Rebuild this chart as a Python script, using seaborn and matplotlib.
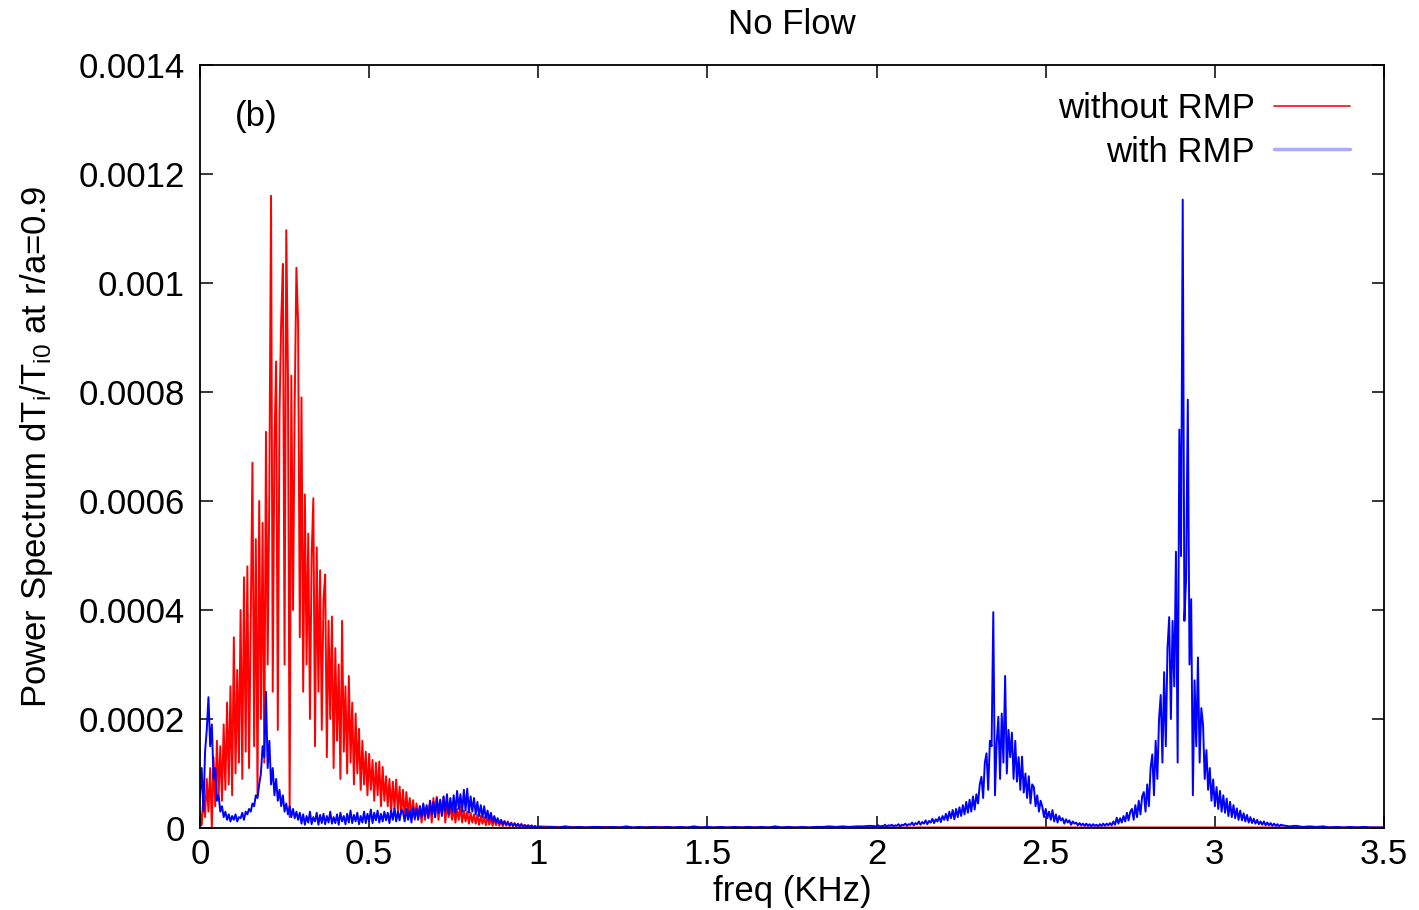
import numpy as np
import pandas as pd
import matplotlib
matplotlib.use("Agg")
import matplotlib.pyplot as plt
from matplotlib.lines import Line2D
import seaborn as sns

# ---------------- data (power values in units of 1e-6) ----------------
title = "No Flow"
series_names = ["without RMP", "with RMP"]
x_ticks = [0, 0.5, 1, 1.5, 2, 2.5, 3, 3.5]
x_tick_labels = ["0", "0.5", "1", "1.5", "2", "2.5", "3", "3.5"]
y_ticks = [0, 0.0002, 0.0004, 0.0006, 0.0008, 0.001, 0.0012, 0.0014]
y_tick_labels = ["0", "0.0002", "0.0004", "0.0006", "0.0008", "0.001", "0.0012", "0.0014"]
value_unit = 1e-6

# without RMP: 0.000 .. 0.995 kHz, step 0.005
red_a_start, red_a_step = 0.0, 0.005
red_a = [
    30, 5, 60, 20, 90, 30, 110, 0, 130, 40, 160, 60, 150, 50, 190, 70, 230, 80, 260, 60,
    350, 100, 290, 120, 400, 90, 460, 140, 480, 110, 380, 670, 150, 530, 60, 600, 200, 560, 120, 727,
    300, 620, 1160, 250, 700, 856, 180, 760, 930, 1035, 300, 1097, 833, 20, 830, 400, 780, 1028, 926, 350,
    790, 250, 612, 300, 540, 200, 500, 605, 150, 515, 250, 473, 180, 420, 465, 130, 380, 200, 388, 110,
    330, 160, 300, 90, 380, 140, 260, 100, 279, 120, 230, 80, 210, 100, 182, 70, 160, 80, 140, 60,
    136, 70, 125, 50, 120, 60, 122, 40, 112, 50, 95, 40, 90, 30, 85, 35, 89, 30, 76, 25,
    70, 20, 66, 25, 55, 20, 51, 15, 45, 20, 40, 10, 42, 15, 39, 20, 50, 10, 55, 20,
    57, 15, 50, 25, 57, 10, 45, 20, 40, 15, 38, 10, 35, 15, 40, 10, 32, 12, 30, 8,
    28, 10, 25, 8, 24, 6, 22, 8, 20, 5, 20, 6, 18, 4, 17, 5, 15, 4, 14, 3,
    13, 4, 12, 3, 10, 3, 9, 2, 8, 2, 8, 2, 6, 2, 5, 1, 5, 1, 4, 1,
]
# without RMP: 1.00 .. 3.50 kHz, step 0.05
red_b_start, red_b_step = 1.0, 0.05
red_b = [3, 2, 2, 1, 2, 1, 1, 2, 1, 1, 1, 1, 1, 1, 1, 1, 1, 1, 1, 1,
         1, 1, 1, 1, 1, 1, 1, 1, 1, 1, 1, 1, 1, 1, 1, 1, 1, 1, 1, 1,
         1, 1, 1, 1, 1, 1, 1, 1, 1, 1, 1]

# with RMP: 0.000 .. 0.995 kHz, step 0.005
blue_a_start, blue_a_step = 0.0, 0.005
blue_a = [
    60, 110, 30, 140, 180, 240, 150, 190, 90, 110, 50, 60, 30, 40, 20, 30, 15, 25, 12, 22,
    15, 25, 12, 20, 18, 28, 15, 30, 25, 35, 30, 45, 40, 60, 55, 80, 100, 150, 130, 250,
    110, 160, 80, 110, 60, 90, 50, 70, 40, 60, 30, 45, 25, 40, 20, 35, 18, 30, 15, 28,
    8, 25, 6, 22, 10, 30, 7, 20, 12, 28, 6, 24, 9, 26, 7, 22, 10, 30, 8, 20,
    9, 25, 6, 28, 12, 22, 7, 26, 10, 32, 9, 24, 12, 28, 7, 22, 10, 30, 9, 26,
    12, 34, 9, 28, 14, 32, 10, 26, 12, 30, 14, 28, 9, 32, 15, 36, 12, 30, 14, 34,
    30, 12, 35, 15, 32, 10, 38, 18, 35, 15, 40, 20, 45, 22, 42, 18, 50, 25, 48, 20,
    55, 28, 52, 22, 58, 30, 62, 25, 55, 30, 60, 28, 68, 35, 62, 30, 70, 32, 72, 28,
    58, 30, 55, 25, 48, 22, 42, 20, 40, 18, 32, 15, 28, 12, 22, 10, 18, 8, 15, 7,
    12, 6, 10, 5, 9, 4, 8, 4, 7, 3, 6, 3, 5, 2, 5, 2, 4, 2, 3, 2,
]
# with RMP: 1.00 .. 1.98 kHz, step 0.02
blue_b_start, blue_b_step = 1.0, 0.02
blue_b = [2, 1, 2, 1, 3, 1, 2, 1, 2, 2, 1, 2, 1, 3, 1, 2, 1, 2, 1, 2,
          1, 2, 1, 3, 1, 2, 1, 2, 1, 2, 1, 2, 1, 2, 1, 3, 1, 2, 1, 2,
          1, 2, 2, 3, 2, 3, 2, 3, 3, 4]
# with RMP: 2.000 .. 3.195 kHz, step 0.005
blue_c_start, blue_c_step = 2.0, 0.005
blue_c = [
    3, 5, 2, 4, 3, 6, 2, 5, 4, 6, 3, 5, 4, 7, 3, 6, 5, 8, 4, 7,
    6, 10, 5, 9, 7, 12, 6, 11, 8, 14, 7, 13, 10, 17, 9, 16, 12, 20, 11, 22,
    15, 26, 14, 30, 18, 33, 16, 35, 20, 38, 22, 42, 25, 48, 28, 52, 30, 58, 34, 62,
    45, 80, 94, 55, 120, 137, 70, 160, 150, 396, 60, 156, 204, 90, 210, 120, 279, 100, 180, 130,
    175, 90, 160, 85, 130, 70, 131, 65, 100, 55, 95, 45, 80, 75, 40, 60, 30, 50, 39, 20,
    35, 18, 30, 15, 33, 12, 25, 10, 22, 14, 18, 8, 16, 10, 14, 6, 12, 8, 10, 5,
    9, 5, 8, 4, 8, 4, 7, 3, 7, 4, 6, 3, 7, 4, 8, 4, 8, 5, 9, 5,
    12, 6, 19, 8, 18, 10, 22, 12, 28, 14, 30, 35, 15, 42, 20, 50, 25, 58, 66, 30,
    80, 40, 110, 135, 60, 160, 90, 200, 244, 120, 286, 150, 330, 387, 200, 380, 260, 507, 120, 731,
    499, 1153, 380, 457, 786, 300, 420, 60, 271, 150, 313, 120, 220, 190, 90, 143, 70, 110, 50, 89,
    40, 75, 35, 68, 30, 60, 28, 54, 22, 48, 20, 42, 18, 36, 15, 32, 14, 27, 12, 24,
    10, 20, 9, 17, 8, 15, 7, 12, 6, 12, 5, 10, 5, 9, 4, 8, 4, 7, 3, 6,
]
# with RMP: 3.20 .. 3.50 kHz, step 0.02
blue_d_start, blue_d_step = 3.2, 0.02
blue_d = [5, 3, 4, 2, 3, 2, 3, 1, 2, 1, 2, 1, 2, 1, 1, 1]


def segment(start, step, vals):
    f = np.round(start + step * np.arange(len(vals)), 4)
    return f, np.asarray(vals, dtype=float) * value_unit


frames = []
for name, segs in [
    (series_names[0], [(red_a_start, red_a_step, red_a), (red_b_start, red_b_step, red_b)]),
    (series_names[1], [(blue_a_start, blue_a_step, blue_a), (blue_b_start, blue_b_step, blue_b),
                       (blue_c_start, blue_c_step, blue_c), (blue_d_start, blue_d_step, blue_d)]),
]:
    fs, ps = [], []
    for s in segs:
        f, p = segment(*s)
        fs.append(f)
        ps.append(p)
    frames.append(pd.DataFrame({"freq": np.concatenate(fs), "power": np.concatenate(ps), "series": name}))
df = pd.concat(frames, ignore_index=True)

# ---------------- style ----------------
sns.set_style("ticks")
plt.rcParams["font.family"] = ["Liberation Sans", "DejaVu Sans"]
plt.rcParams["mathtext.fontset"] = "custom"
plt.rcParams["mathtext.rm"] = "Liberation Sans"
plt.rcParams["mathtext.it"] = "Liberation Sans:italic"
for k in ["text.color", "axes.labelcolor", "xtick.color", "ytick.color", "axes.edgecolor"]:
    plt.rcParams[k] = "black"

FS = 25
fig = plt.figure(figsize=(14.19, 9.10), dpi=100)
ax = fig.add_axes([200 / 1419, 1 - 828 / 910, 1184 / 1419, 763 / 910])

sns.lineplot(data=df, x="freq", y="power", hue="series", hue_order=series_names,
             palette={series_names[0]: "#ff0000", series_names[1]: "#0000ff"},
             estimator=None, sort=False, linewidth=1.4, legend=False, ax=ax)

ax.set_xlim(0, 3.5)
ax.set_ylim(0, 0.0014)
ax.set_xticks(x_ticks)
ax.set_xticklabels(x_tick_labels)
ax.set_yticks(y_ticks)
ax.set_yticklabels(y_tick_labels)
ax.tick_params(axis="both", direction="in", length=9, width=1.1, top=True, right=True,
               labelsize=FS, colors="black")
ax.tick_params(axis="x", pad=7)
ax.tick_params(axis="y", pad=11)
for sp in ax.spines.values():
    sp.set_visible(True)
    sp.set_linewidth(1.3)
    sp.set_color("black")

ax.set_xlabel("freq (KHz)", fontsize=FS, labelpad=3)
ax.set_ylabel(r"Power Spectrum dT$_{\mathregular{i}}$/T$_{\mathregular{i0}}$ at r/a=0.9",
              fontsize=FS, labelpad=17)
ax.set_title(title, fontsize=FS, pad=22)
ax.text(0.0296, 0.932, "(b)", transform=ax.transAxes, fontsize=FS, ha="left", va="center")

handles = [Line2D([], [], color="#ff2020", lw=1.3), Line2D([], [], color="#aaaaff", lw=2.5)]
ax.legend(handles, series_names, loc="upper right", bbox_to_anchor=(0.9713, 0.9645),
          frameon=False, markerfirst=False, fontsize=FS, handlelength=2.2,
          handletextpad=0.55, labelspacing=0.3, borderpad=0, borderaxespad=0)

fig.savefig("out.png", dpi=100)
